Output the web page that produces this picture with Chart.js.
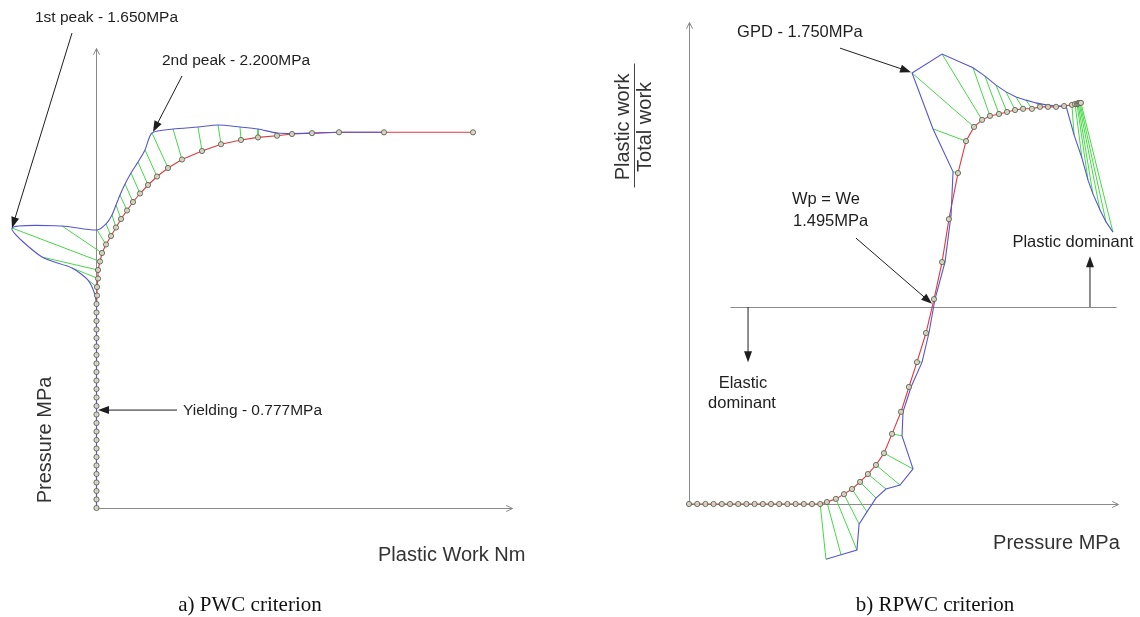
<!DOCTYPE html>
<html>
<head>
<meta charset="utf-8">
<script src="https://cdn.jsdelivr.net/npm/chart.js@4.4.1/dist/chart.umd.min.js"></script>
<style>
  body { margin: 0; background: #fff; }
  #wrap { position: relative; width: 1140px; height: 617px; overflow: hidden; }
  canvas { position: absolute; top: 0; }
  #pwc { left: 0; }
  #rpwc { left: 580px; }
  .caption {
    position: absolute; top: 592px; transform: translateX(-50%); white-space: nowrap;
    font-family: "Liberation Serif", "Times New Roman", serif; font-size: 21px; color: #111;
  }
</style>
</head>
<body>
<div id="wrap">
  <canvas id="pwc" width="560" height="617"></canvas>
  <canvas id="rpwc" width="560" height="617"></canvas>
  <div class="caption" style="left:250px">a) PWC criterion</div>
  <div class="caption" style="left:935px">b) RPWC criterion</div>
</div>
<script>
// ── a) PWC: plastic work (Nm) vs pressure (MPa) ──
const pwcChainX = [0.05,0.05,0.05,0.05,0.05,0.05,0.05,0.05,0.05,0.05,0.05,0.05,0.05,0.05,0.05,0.05,0.05,0.05,0.05,0.05,0.05,0.05,0.05,0.05,0.05];
const pwcChainY = [0,0.05,0.10,0.15,0.20,0.25,0.30,0.35,0.40,0.45,0.50,0.55,0.60,0.65,0.70,0.75,0.80,0.85,0.90,0.95,1.00,1.05,1.10,1.15,1.20];
const pwcCurveX = [0.1,0.1,0.2,0.2,0.4,0.6,1.0,1.5,2.0,2.5,3.1,3.7,4.4,5.2,6.1,7.2,8.6,10.6,12.5,14.5,16.2,18.1,19.6,21.6,24.3,28.8,37.7];
const pwcCurveY = [1.25,1.30,1.35,1.40,1.45,1.50,1.55,1.60,1.65,1.70,1.75,1.80,1.85,1.90,1.95,2.00,2.05,2.10,2.14,2.165,2.18,2.19,2.20,2.205,2.21,2.21,2.21];
const pwcBlueX  = [-0.2,-0.8,-2.4,-5.4,-8.4,-3.4,0.1,1.0,1.6,2.0,2.4,2.9,3.5,4.2,4.9,5.6,7.7,10.2,12.2,14.4,16.2,18.1,19.6,21.6,24.3,28.8,null];
const pwcBlueY  = [1.271,1.341,1.412,1.476,1.647,1.659,1.635,1.671,1.724,1.782,1.841,1.906,1.971,2.035,2.106,2.206,2.229,2.241,2.253,2.241,2.229,2.206,2.203,2.205,2.21,2.21,null];

// ── b) RPWC: pressure (MPa) vs plastic work / total work ──
const rpwcChainX = [0,0.05,0.10,0.15,0.20,0.25,0.30,0.35,0.40,0.45,0.50,0.55,0.60,0.65,0.70,0.75];
const rpwcChainY = [0,0,0,0,0,0,0,0,0,0,0,0,0,0,0,0];
const rpwcCurveX = [0.80,0.841,0.896,0.945,0.994,1.043,1.091,1.140,1.189,1.238,1.293,1.341,1.390,1.445,1.494,1.543,1.585,1.640,1.689,1.738,1.787,1.835,1.890,1.939,1.988,2.037,2.091,2.140,2.189,2.238,2.287,2.335,2.354,2.366,2.372,2.378,2.384,2.390];
const rpwcCurveY = [0,0.005,0.013,0.025,0.038,0.056,0.076,0.099,0.129,0.178,0.234,0.297,0.360,0.434,0.520,0.614,0.723,0.840,0.921,0.957,0.975,0.985,0.990,0.995,1.000,1.003,1.003,1.008,1.008,1.008,1.010,1.013,1.015,1.015,1.017,1.018,1.018,1.018];
const rpwcBlueX  = [0.835,0.927,1.024,1.037,1.085,1.140,1.201,1.287,1.366,1.299,1.305,1.354,1.421,1.463,1.500,1.561,1.598,1.610,1.488,1.360,1.543,1.732,1.805,1.872,1.933,1.994,2.055,2.116,2.177,2.238,2.299,2.348,2.396,2.433,2.463,2.506,2.543,2.585];
const rpwcBlueY  = [-0.140,-0.129,-0.117,-0.051,-0.020,0.015,0.038,0.048,0.089,0.173,0.234,0.297,0.360,0.434,0.520,0.614,0.734,0.843,0.952,1.094,1.142,1.107,1.086,1.063,1.046,1.033,1.025,1.018,1.013,1.010,1.010,0.937,0.878,0.822,0.787,0.746,0.716,0.690];

const GREEN = '#45d845', BLUE = '#5555d4', RED = '#e0393b', AXIS = '#8a8a8a', INK = '#1e1e1e';
const FONT = '"Liberation Sans", Arial, sans-serif';

function pts(xs, ys) {
    return xs.map((x, i) => ({ x, y: ys[i] })).filter(p => p.x !== null && p.y !== null);
}

// green links: each blue point to its red partner
function links(rx, ry, bx, by) {
    const sets = [];
    rx.forEach((x, i) => {
        if (bx[i] === null) return;
        sets.push({
            data: [{ x: bx[i], y: by[i] }, { x, y: ry[i] }],
            showLine: true, borderColor: GREEN, borderWidth: 1, pointRadius: 0, order: 4
        });
    });
    return sets;
}

// axes, arrows and texts, all placed through the chart's scales
function sketch(cfg) {
    return {
        id: 'sketch',
        beforeDatasetsDraw(chart) {
            const { ctx } = chart;
            const X = v => chart.scales.x.getPixelForValue(v), Y = v => chart.scales.y.getPixelForValue(v);
            ctx.save();
            cfg.axes.forEach(a => {
                const x0 = Math.round(X(a.from[0])) + 0.5, y0 = Math.round(Y(a.from[1])) + 0.5;
                const x1 = Math.round(X(a.to[0])) + 0.5, y1 = Math.round(Y(a.to[1])) + 0.5;
                ctx.strokeStyle = a.color || AXIS;
                ctx.lineWidth = 1;
                ctx.beginPath(); ctx.moveTo(x0, y0); ctx.lineTo(x1, y1); ctx.stroke();
                if (a.head) {
                    const ang = Math.atan2(y1 - y0, x1 - x0);
                    ctx.beginPath();
                    ctx.moveTo(x1 - 7 * Math.cos(ang - 0.45), y1 - 7 * Math.sin(ang - 0.45));
                    ctx.lineTo(x1, y1);
                    ctx.lineTo(x1 - 7 * Math.cos(ang + 0.45), y1 - 7 * Math.sin(ang + 0.45));
                    ctx.stroke();
                }
            });
            ctx.restore();
        },
        afterDatasetsDraw(chart) {
            const { ctx } = chart;
            const X = v => chart.scales.x.getPixelForValue(v), Y = v => chart.scales.y.getPixelForValue(v);
            ctx.save();
            cfg.pointers.forEach(p => {
                const x0 = X(p.from[0]), y0 = Y(p.from[1]), x1 = X(p.to[0]), y1 = Y(p.to[1]);
                const ang = Math.atan2(y1 - y0, x1 - x0);
                ctx.strokeStyle = INK; ctx.fillStyle = INK; ctx.lineWidth = 1;
                ctx.beginPath(); ctx.moveTo(x0, y0);
                ctx.lineTo(x1 - 8 * Math.cos(ang), y1 - 8 * Math.sin(ang)); ctx.stroke();
                ctx.beginPath();
                ctx.moveTo(x1, y1);
                ctx.lineTo(x1 - 11 * Math.cos(ang) + 4 * Math.sin(ang), y1 - 11 * Math.sin(ang) - 4 * Math.cos(ang));
                ctx.lineTo(x1 - 11 * Math.cos(ang) - 4 * Math.sin(ang), y1 - 11 * Math.sin(ang) + 4 * Math.cos(ang));
                ctx.closePath(); ctx.fill();
            });
            cfg.labels.forEach(l => {
                ctx.save();
                ctx.fillStyle = l.color || INK;
                ctx.font = `${l.size || cfg.fontSize}px ${FONT}`;
                ctx.textBaseline = 'middle';
                ctx.textAlign = l.align || 'left';
                ctx.translate(X(l.at[0]), Y(l.at[1]));
                if (l.rotate) ctx.rotate(-Math.PI / 2);
                ctx.fillText(l.text, 0, 0);
                ctx.restore();
            });
            ctx.restore();
        }
    };
}

function panel(canvasId, layout, series, cfg) {
    const canvas = document.getElementById(canvasId);
    const w = canvas.width, h = canvas.height;
    const markers = pts(series.chainX.concat(series.curveX), series.chainY.concat(series.curveY));
    const blue = series.blueOnChain ? pts(series.chainX.concat(series.blueX), series.chainY.concat(series.blueY))
                                    : pts(series.blueX, series.blueY);
    new Chart(canvas.getContext('2d'), {
        type: 'scatter',
        data: {
            datasets: [
                ...links(series.curveX, series.curveY, series.blueX, series.blueY),
                { data: blue, showLine: true, borderColor: BLUE, borderWidth: 1.1, pointRadius: 0, tension: series.tension, order: 2 },
                { data: markers, showLine: true, borderColor: RED, borderWidth: 1.1, pointRadius: 0, order: 3 },
                { data: markers, showLine: false, pointRadius: 2.6, pointBorderWidth: 0.9,
                  pointBorderColor: '#5f604f', pointBackgroundColor: 'rgba(214,216,196,0.9)', order: 1 }
            ]
        },
        options: {
            responsive: false,
            animation: false,
            devicePixelRatio: 1,
            events: [],
            layout: { padding: 0, autoPadding: false },
            plugins: { legend: { display: false }, tooltip: { enabled: false } },
            scales: {
                x: { type: 'linear', display: false,
                     min: -layout.originX / layout.pxPerX, max: (w - layout.originX) / layout.pxPerX },
                y: { type: 'linear', display: false,
                     min: -(h - layout.originY) / layout.pxPerY, max: layout.originY / layout.pxPerY }
            }
        },
        plugins: [sketch(cfg)]
    });
}

panel('pwc', { originX: 96, originY: 508, pxPerX: 10, pxPerY: 170 },
    { chainX: pwcChainX, chainY: pwcChainY, curveX: pwcCurveX, curveY: pwcCurveY,
      blueX: pwcBlueX, blueY: pwcBlueY, blueOnChain: true, tension: 0.25 },
    {
        fontSize: 15.5,
        axes: [
            { from: [0, 0], to: [0, 2.706], head: true },
            { from: [0, 0], to: [41.6, 0], head: true }
        ],
        pointers: [
            { from: [-2.4, 2.794], to: [-8.4, 1.647] },
            { from: [8.6, 2.541], to: [5.7, 2.212] },
            { from: [8.1, 0.576], to: [0.2, 0.576] }
        ],
        labels: [
            { text: '1st peak - 1.650MPa', at: [-6.1, 2.882] },
            { text: '2nd peak - 2.200MPa', at: [6.6, 2.629] },
            { text: 'Yielding - 0.777MPa', at: [8.7, 0.571] },
            { text: 'Pressure MPa', at: [-5.1, 0.4], size: 20, rotate: true, align: 'center', color: '#333' },
            { text: 'Plastic Work Nm', at: [28.2, -0.282], size: 20, color: '#333' }
        ]
    });

panel('rpwc', { originX: 109, originY: 504, pxPerX: 164, pxPerY: 394 },
    { chainX: rpwcChainX, chainY: rpwcChainY, curveX: rpwcCurveX, curveY: rpwcCurveY,
      blueX: rpwcBlueX, blueY: rpwcBlueY, blueOnChain: false, tension: 0 },
    {
        fontSize: 16.5,
        axes: [
            { from: [0, 0], to: [0, 1.223], head: true },
            { from: [-0.018, 0], to: [2.616, 0], head: true },
            { from: [0.25, 0.5], to: [2.604, 0.5] },
            { from: [-0.335, 1.119], to: [-0.335, 0.805], color: '#444' }
        ],
        pointers: [
            { from: [0.36, 0.5], to: [0.36, 0.36] },
            { from: [2.445, 0.5], to: [2.445, 0.629] },
            { from: [0.921, 1.157], to: [1.354, 1.096] },
            { from: [1.018, 0.675], to: [1.482, 0.508] }
        ],
        labels: [
            { text: 'GPD - 1.750MPa', at: [0.293, 1.198] },
            { text: 'Wp = We', at: [0.628, 0.772] },
            { text: '1.495MPa', at: [0.634, 0.718] },
            { text: 'Plastic dominant', at: [2.341, 0.665], align: 'center' },
            { text: 'Elastic', at: [0.329, 0.307], align: 'center' },
            { text: 'dominant', at: [0.323, 0.254], align: 'center' },
            { text: 'Pressure MPa', at: [1.854, -0.099], size: 20, color: '#333' },
            { text: 'Plastic work', at: [-0.399, 0.957], size: 20, rotate: true, align: 'center', color: '#333' },
            { text: 'Total work', at: [-0.268, 0.957], size: 20, rotate: true, align: 'center', color: '#333' }
        ]
    });
</script>
</body>
</html>
